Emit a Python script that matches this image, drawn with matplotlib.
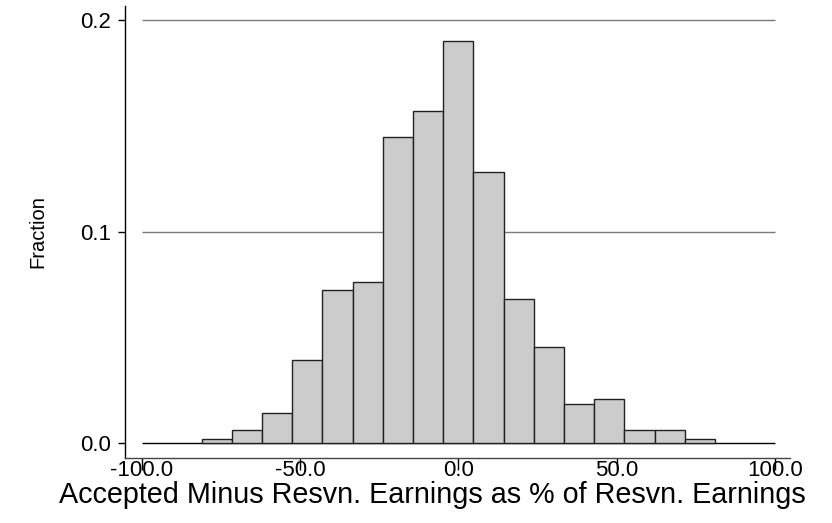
import numpy as np
import matplotlib
matplotlib.use("Agg")
import matplotlib.pyplot as plt

# histogram of accepted vs reservation earnings (17 bins)
bin_lo = -81.1
bin_hi = 81.1
fractions = [0.002, 0.0061, 0.0145, 0.0394, 0.0725, 0.0765, 0.1448, 0.1573, 0.1902,
             0.1281, 0.0682, 0.0455, 0.0186, 0.0208, 0.0061, 0.0061, 0.002]
xticks = [-100, -50, 0, 50, 100]
xtick_labels = ["-100.0", "-50.0", "0.0", "50.0", "100.0"]
yticks = [0.0, 0.1, 0.2]
ytick_labels = ["0.0", "0.1", "0.2"]

plt.rcParams["font.family"] = ["Liberation Sans", "DejaVu Sans"]

fig = plt.figure(figsize=(8.32, 5.23), dpi=100)
ax = fig.add_axes([125 / 832, 1 - 458 / 523, 665 / 832, 452 / 523])

edges = np.linspace(bin_lo, bin_hi, len(fractions) + 1)
width = edges[1] - edges[0]

# grid lines only across the data range
for y in yticks:
    col = "black" if y == 0 else "#7a7a7a"
    ax.hlines(y, xticks[0], xticks[-1], color=col, lw=1.0, zorder=1)

ax.bar(edges[:-1], fractions, width=width, align="edge",
       color="#cccccc", edgecolor="#222222", linewidth=1.0, zorder=2)

ax.set_xlim(-105.3, 104.8)
ax.set_ylim(-0.00695, 0.2068)

ax.spines["top"].set_visible(False)
ax.spines["right"].set_visible(False)
ax.spines["left"].set_linewidth(1.0)
ax.spines["bottom"].set_linewidth(1.0)
ax.spines["bottom"].set_color("#444444")

ax.set_xticks(xticks)
ax.set_xticklabels(xtick_labels)
ax.set_yticks(yticks)
ax.set_yticklabels(ytick_labels)
ax.tick_params(axis="x", direction="out", length=8.6, width=1.0, pad=-7.5, labelsize=16)
ax.tick_params(axis="y", direction="out", length=5, width=1.0, pad=5, labelsize=16)

ax.set_ylabel("Fraction", fontsize=14.5)
ax.yaxis.set_label_coords(-0.116, 0.5)
ax.set_xlabel("Accepted Minus Resvn. Earnings as % of Resvn. Earnings", fontsize=20.7)
ax.xaxis.set_label_coords((432 - 125) / 665, -0.05)

fig.savefig("out.png", dpi=100)
